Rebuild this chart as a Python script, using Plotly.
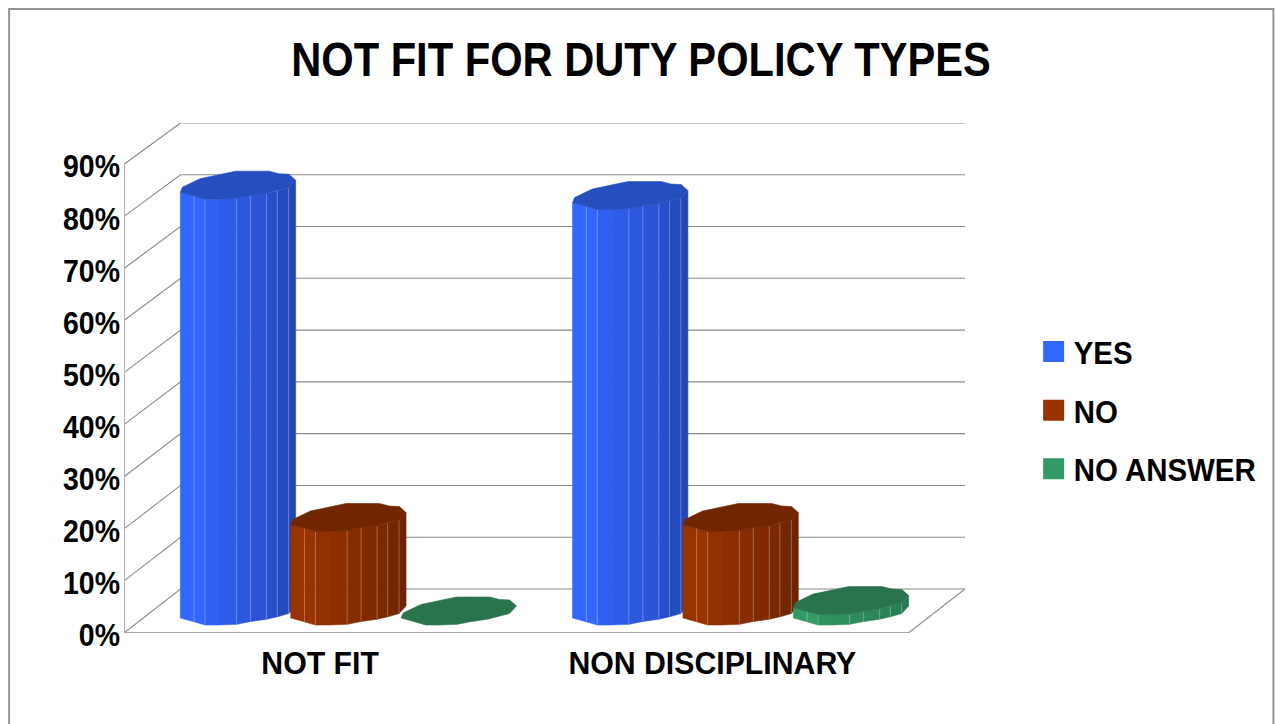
import plotly.graph_objects as go

# ---- data ----
categories = ["NOT FIT", "NON DISCIPLINARY"]
yes_values = [82, 80]
no_values = [18, 18]
no_answer_values = [0, 2]
tick_values = [0, 10, 20, 30, 40, 50, 60, 70, 80, 90]
tick_labels = ["0%", "10%", "20%", "30%", "40%", "50%", "60%", "70%", "80%", "90%"]
title_text = "NOT FIT FOR DUTY POLICY TYPES"

series = [
    ("YES", yes_values, "#3366FF", "#254FBF", "#2346B5"),
    ("NO", no_values, "#993300", "#722600", "#6E2400"),
    ("NO ANSWER", no_answer_values, "#339966", "#29734D", "#267A50"),
]

# ---- layout geometry (pixels of the 1275x724 canvas) ----
W, H = 1275, 724
LEFT, RIGHT, TOP, BOTTOM = 123.5, 965.3, 122.7, 632.7
FRONT_RIGHT = 908.7
CAT_PX = (FRONT_RIGHT - LEFT) / len(categories)
VAL_PX = 5.208
DEPTH_X = (RIGHT - FRONT_RIGHT) / CAT_PX
X0 = -0.5
X1 = X0 + len(categories)
DEPTH_Y0 = 8.45
BACK_SCALE = 51.78 / 52.08
SERIES_STEP = 110.5 / CAT_PX
FONT = "Liberation Sans"
GRID = "#8C8C8C"
AXIS = "#ABABAB"


def back_y(v):
    return v * BACK_SCALE + DEPTH_Y0


def paper_x(px):
    return (px - LEFT) / (RIGHT - LEFT)


def paper_y(px):
    return (BOTTOM - px) / (BOTTOM - TOP)


# cylinder cross-section, px offsets from its centre
upper_edge = [(-57.7, 7), (-55.7, 2), (-38, -6.5), (-2.3, -14), (31, -14), (41, -11.5),
              (51, -11), (57.7, -5)]
lower_edge = [(-57.7, 7), (-44, 10.8), (-33, 14), (-19, 14), (-1.3, 13.3), (12.7, 10.5),
              (28.7, 8.2), (39.3, 5.8), (50.7, 2.5), (57.7, -5)]


def blend(c1, c2, t):
    a = [int(c1[i:i + 2], 16) for i in (1, 3, 5)]
    b = [int(c2[i:i + 2], 16) for i in (1, 3, 5)]
    return "#%02X%02X%02X" % tuple(round(p + (q - p) * t) for p, q in zip(a, b))


def to_xy(cx, cv, edge):
    return ([cx + dx / CAT_PX for dx, _ in edge], [cv - dy / VAL_PX for _, dy in edge])


fig = go.Figure()


def line(xs, ys, color, width=1.1):
    fig.add_trace(go.Scatter(x=xs, y=ys, mode="lines", line=dict(color=color, width=width),
                             hoverinfo="skip", showlegend=False, cliponaxis=False))


# walls and floor
for v in tick_values:
    line([X0, X0 + DEPTH_X, X1 + DEPTH_X], [v, back_y(v), back_y(v)], GRID)
line([X1, X1 + DEPTH_X], [0, back_y(0)], GRID)
line([X0, X1], [0, 0], GRID, 1.6)
line([X0, X0], [0, tick_values[-1]], AXIS, 1.8)

# cylinders
for c in range(len(categories)):
    for s, (name, vals, base, top, dark) in enumerate(series):
        value = vals[c]
        cx = c + DEPTH_X / 2 + (s - 1) * SERIES_STEP
        cv0 = back_y(0) / 2
        cv1 = cv0 + value * (1 + BACK_SCALE) / 2
        if value > 0:
            n = len(lower_edge) - 1
            for i in range(n):
                seg = lower_edge[i:i + 2]
                bx, by = to_xy(cx, cv0, seg)
                tx, ty = to_xy(cx, cv1, seg)
                col = blend(base, dark, (i / (n - 1)) ** 1.2) if i > 1 else base
                fig.add_trace(go.Scatter(
                    x=bx + tx[::-1] + bx[:1], y=by + ty[::-1] + by[:1],
                    mode="lines", fill="toself", fillcolor=col,
                    line=dict(color=col, width=0.6),
                    hoverinfo="skip", showlegend=False, cliponaxis=False))
            sx, sy = [], []
            for k in (1, 2, 4, 5, 6, 7, 8):
                bx, by = to_xy(cx, cv0, lower_edge[k:k + 1])
                tx, ty = to_xy(cx, cv1, lower_edge[k:k + 1])
                sx += [bx[0], tx[0], None]
                sy += [by[0], ty[0], None]
            fig.add_trace(go.Scatter(x=sx, y=sy, mode="lines",
                                     line=dict(color="rgba(255,255,255,0.28)", width=1),
                                     hoverinfo="skip", showlegend=False, cliponaxis=False))
        px, py = to_xy(cx, cv1, upper_edge + lower_edge[::-1][1:])
        fig.add_trace(go.Scatter(x=px, y=py, mode="lines", fill="toself", fillcolor=top,
                                 line=dict(color=top, width=0.6),
                                 hoverinfo="skip", showlegend=False, cliponaxis=False))

# legend entries
for i, (name, vals, base, top, dark) in enumerate(series):
    fig.add_trace(go.Scatter(
        x=[None], y=[None], mode="markers", name=name, legendgroup=name,
        marker=dict(symbol="square", size=16, color=base, line=dict(color=base, width=5))))

fig.update_layout(
    width=W, height=H,
    margin=dict(l=LEFT, r=W - RIGHT, t=TOP, b=H - BOTTOM, pad=0, autoexpand=False),
    paper_bgcolor="white", plot_bgcolor="rgba(0,0,0,0)",
    title=dict(text=title_text, x=641 / W, y=1 - 59 / H, xref="container", yref="container",
               xanchor="center", yanchor="middle",
               font=dict(family=FONT, size=49, color="black", weight="bold")),
    xaxis=dict(range=[X0, X1 + DEPTH_X], tickmode="array", tickvals=list(range(len(categories))),
               ticktext=categories, showgrid=False, zeroline=False, showline=False, ticks="",
               automargin=False, ticklabelstandoff=8,
               tickfont=dict(family=FONT, size=32, color="black", weight="bold")),
    yaxis=dict(range=[0, (BOTTOM - TOP) / VAL_PX], tickmode="array", tickvals=tick_values,
               ticktext=tick_labels, showgrid=False, zeroline=False, showline=False, ticks="",
               automargin=False, ticklabelstandoff=3,
               tickfont=dict(family=FONT, size=32, color="black", weight="bold")),
    legend=dict(x=paper_x(1034), y=paper_y(324), xanchor="left", yanchor="top",
                tracegroupgap=14, itemclick=False, itemdoubleclick=False,
                font=dict(family=FONT, size=32, color="black", weight="bold"),
                bgcolor="rgba(0,0,0,0)"),
    shapes=[dict(type="rect", xref="paper", yref="paper",
                 x0=paper_x(8.5), x1=paper_x(1274),
                 y0=paper_y(740), y1=paper_y(8.7),
                 line=dict(color="#949494", width=2), layer="below")],
)

# the reference uses a condensed bold face: narrow the real text glyphs to its widths
condense = """
document.body.style.margin='0';document.body.style.overflow='hidden';
[['.gtitle',0.85],['.xtick text',0.945],['.ytick text',0.89],['.legendtext',0.92]].forEach(function(p){
  document.querySelectorAll(p[0]).forEach(function(t){
    t.setAttribute('textLength', t.getComputedTextLength()*p[1]);
    t.setAttribute('lengthAdjust','spacingAndGlyphs');
  });
});
document.querySelectorAll('.ytick text').forEach(function(t){t.setAttribute('dy','2');});
"""
fig.write_html("out.html", config=dict(displayModeBar=False), post_script=condense)
